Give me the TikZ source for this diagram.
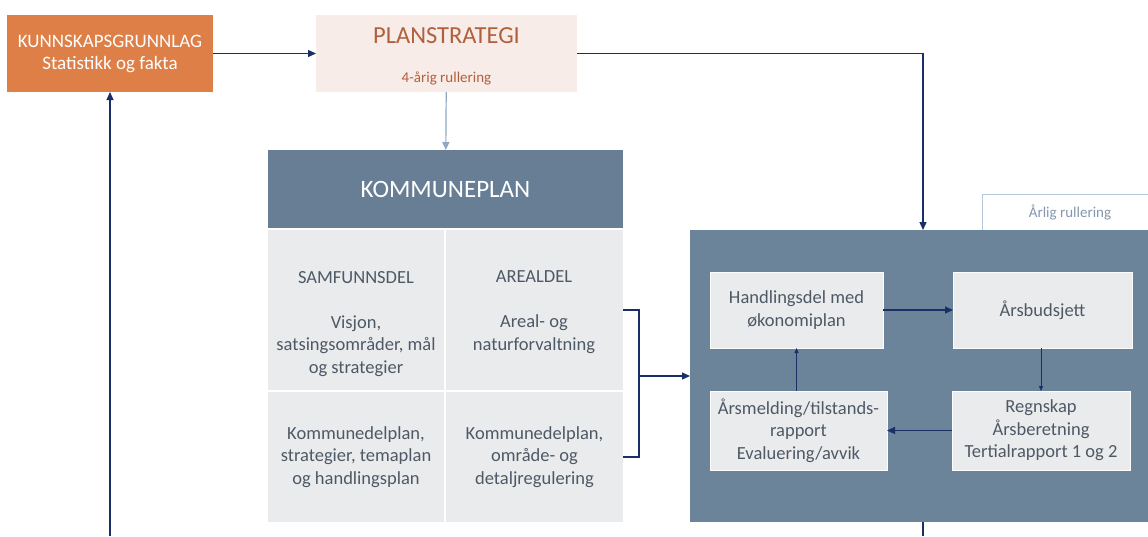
\documentclass[tikz,border=0pt]{standalone}
\usepackage{fontspec}
\setmainfont{Carlito}
\usetikzlibrary{arrows.meta,positioning}

\definecolor{oransje}{HTML}{DD7F46}
\definecolor{lysrosa}{HTML}{F8ECE8}
\definecolor{brun}{HTML}{B0603C}
\definecolor{marine}{HTML}{1A2F66}
\definecolor{lysbla}{HTML}{8EA9C1}
\definecolor{skifer}{HTML}{687E95}
\definecolor{syklusbla}{HTML}{6B8499}
\definecolor{celle}{HTML}{EAEBED}
\definecolor{tekstgra}{HTML}{4E5966}
\definecolor{rammebla}{HTML}{B4C7DC}
\definecolor{aarligtekst}{HTML}{8497B0}

\begin{document}
\begin{tikzpicture}[x=1pt,y=-1pt,
    every node/.style={align=center,inner sep=0pt,outer sep=0pt},
    normal/.style={font=\fontsize{18.5}{22.5}\selectfont},
    boks/.style={anchor=north west,normal},
    celleboks/.style={boks,fill=celle,text=tekstgra},
    indreboks/.style={boks,fill=celle,draw=white!85!celle,line width=1pt,text=tekstgra},
    pil/.style={marine,line width=1.2pt,-{Triangle[width=7pt,length=8pt]}},
    tynnpil/.style={marine,line width=0.9pt,-{Triangle[width=4pt,length=5pt]}},
    linje/.style={marine,line width=1.2pt}]
    \fill[white] (0,0) rectangle (1148,536);
    \useasboundingbox (0,0) rectangle (1148,536);

    % kunnskap og planstrategi
    \node[boks,fill=oransje,text=white,font=\fontsize{19}{22}\selectfont,minimum width=206pt,minimum height=77pt] (kunnskap) at (7,15) {KUNNSKAPSGRUNNLAG\\Statistikk og fakta};
    \node[boks,fill=lysrosa,minimum width=261pt,minimum height=77pt] (planstrategi) at (316,15) {};
    \node[anchor=base,text=brun,font=\fontsize{24.5}{28}\selectfont] (plantittel) at (446.5,43) {PLANSTRATEGI};
    \node[anchor=base,text=brun,font=\fontsize{15}{18}\selectfont] (planrullering) at (446.5,82) {4-årig rullering};

    % kommuneplan
    \node[boks,fill=skifer,text=white,font=\fontsize{25}{28}\selectfont,minimum width=355pt,minimum height=78pt] (kommuneplan) at (268,150) {KOMMUNEPLAN};
    \node[celleboks,minimum width=176pt,minimum height=160pt] (samfunn) at (268,230) {};
    \node[celleboks,minimum width=177pt,minimum height=160pt] (areal) at (446,230) {};
    \node[celleboks,minimum width=176pt,minimum height=130pt] (kdpsamf) at (268,392) {Kommunedelplan,\\strategier, temaplan\\og handlingsplan};
    \node[celleboks,minimum width=177pt,minimum height=130pt] (kdpareal) at (446,392) {Kommunedelplan,\\område- og\\detaljregulering};
    \node[normal,text=tekstgra,anchor=north] (samfunntekst) at (356,271) {SAMFUNNSDEL\\ \\Visjon,\\satsingsområder, mål\\og strategier};
    \node[normal,text=tekstgra,anchor=north] (arealtekst) at (534,271) {AREALDEL\\ \\Areal- og\\naturforvaltning};

    % årlig syklus
    \node[boks,fill=white,draw=rammebla,line width=0.8pt,text=aarligtekst,font=\fontsize{15}{18}\selectfont,minimum width=176pt,minimum height=36pt] (aarlig) at (982,194) {Årlig rullering};
    \node[boks,fill=syklusbla,minimum width=466pt,minimum height=292pt] (syklus) at (690,230) {};
    \node[indreboks,minimum width=173pt,minimum height=76pt] (handling) at (710,272) {Handlingsdel med\\økonomiplan};
    \node[indreboks,minimum width=179pt,minimum height=76pt] (budsjett) at (953,272) {Årsbudsjett};
    \node[indreboks,minimum width=177pt,minimum height=79pt] (aarsmelding) at (710,391) {Årsmelding/tilstands-\\rapport\\Evaluering/avvik};
    \node[indreboks,minimum width=178pt,minimum height=79pt] (regnskap) at (952,391) {Regnskap\\Årsberetning\\Tertialrapport 1 og 2};

    \coordinate (venstrebunn) at (110,536);
    \coordinate (syklusbunn) at (923,536);

    % piler
    \draw[pil] (kunnskap) -- (planstrategi);
    \draw[lysbla,line width=1.2pt,-{Triangle[width=7pt,length=8pt]}] (planstrategi) -- (kommuneplan);
    \draw[pil] (planstrategi.east) -| (syklus.north);
    \draw[linje] (areal.east) -- ++(16,0) coordinate (klamme) |- (kdpareal.east);
    \draw[pil] (klamme |- syklus.west) -- (syklus.west);
    \draw[pil] (handling) -- (budsjett);
    \draw[tynnpil] (budsjett.south -| regnskap.north) -- (regnskap.north);
    \draw[pil] (regnskap) -- (aarsmelding);
    \draw[tynnpil] (aarsmelding.north -| handling.south) -- (handling.south);
    \draw[linje] (syklus.south) -- (syklusbunn);
    \draw[pil] (venstrebunn) -- (kunnskap.south);
\end{tikzpicture}
\end{document}
